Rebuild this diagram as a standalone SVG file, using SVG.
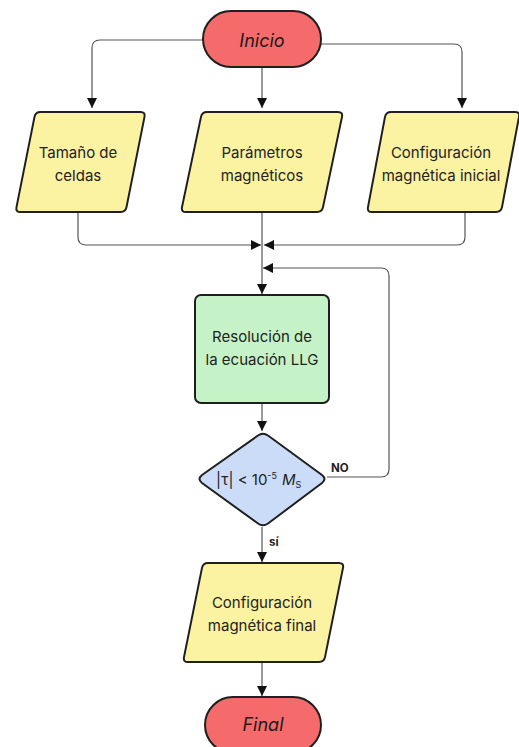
<svg xmlns="http://www.w3.org/2000/svg" width="519" height="747" viewBox="0 0 519 747">
<style>
.term{fill:#f56b6b;stroke:#1f1f1f;stroke-width:2}
.io{fill:#fbf2a2;stroke:#1f1f1f;stroke-width:2;stroke-linejoin:round}
.proc{fill:#c6f2c8;stroke:#1f1f1f;stroke-width:2}
.dec{fill:#cadcf8;stroke:#1f1f1f;stroke-width:2;stroke-linejoin:round}
.t{font-family:Inter,"Liberation Sans",sans-serif;font-size:15px;fill:#222;text-anchor:middle}
.ti{font-family:Inter,"Liberation Sans",sans-serif;font-size:18px;font-style:italic;fill:#1a1a1a;text-anchor:middle}
.lbl{font-family:Inter,"Liberation Sans",sans-serif;font-size:11.5px;font-weight:bold;fill:#222}
.c{fill:none;stroke:#555;stroke-width:1.2}
</style>
<defs>
<marker id="ah" viewBox="0 0 10 10" refX="10" refY="5" markerWidth="10" markerHeight="10" markerUnits="userSpaceOnUse" orient="auto">
<path d="M0,0 L10,5 L0,10 z" fill="#111"/>
</marker>
</defs>
<g id="connectors">
<path class="c" d="M203 40 H100 Q92 40 92 48 V108" marker-end="url(#ah)"/>
<path class="c" d="M262 67 V108" marker-end="url(#ah)"/>
<path class="c" d="M321 44 H454 Q462 44 462 52 V108" marker-end="url(#ah)"/>
<path class="c" d="M78 212 V237 Q78 245 86 245 H261" marker-end="url(#ah)"/>
<path class="c" d="M465 212 V237 Q465 245 457 245 H264" marker-end="url(#ah)"/>
<path class="c" d="M262 212 V294" marker-end="url(#ah)"/>
<path class="c" d="M327 477 H381 Q389 477 389 469 V276 Q389 268 381 268 H263" marker-end="url(#ah)"/>
<path class="c" d="M262 403 V431" marker-end="url(#ah)"/>
<path class="c" d="M262 527 V562" marker-end="url(#ah)"/>
<path class="c" d="M262 662 V696" marker-end="url(#ah)"/>
<text class="lbl" x="331" y="472">NO</text>
<text class="lbl" x="269" y="546" font-size="13">sí</text>
</g>
<g id="inicio">
<rect class="term" x="203" y="11" width="118" height="56" rx="28"/>
<text class="ti" x="262" y="47">Inicio</text>
</g>
<g id="tamano">
<path class="io" d="M40.5 112 L140.5 112 Q145.5 112 144.5 116.9 L126.5 207.1 Q125.5 212 120.5 212 L20.5 212 Q15.5 212 16.5 207.1 L34.5 116.9 Q35.5 112 40.5 112 Z"/>
<text class="t" x="78" y="158">Tamaño de</text>
<text class="t" x="78" y="181">celdas</text>
</g>
<g id="parametros">
<path class="io" d="M207 112 L338 112 Q343 112 342 116.9 L323 207.1 Q322 212 317 212 L186 212 Q181 212 182 207.1 L201 116.9 Q202 112 207 112 Z"/>
<text class="t" x="262" y="158">Parámetros</text>
<text class="t" x="262" y="181">magnéticos</text>
</g>
<g id="config-inicial">
<path class="io" d="M391 112 L515 112 Q520 112 519 116.9 L502 207.1 Q501 212 496 212 L372 212 Q367 212 368 207.1 L385 116.9 Q386 112 391 112 Z"/>
<text class="t" x="441" y="158">Configuración</text>
<text class="t" x="441" y="181">magnética inicial</text>
</g>
<g id="resolucion">
<rect class="proc" x="195" y="295" width="134" height="108" rx="6"/>
<text class="t" x="262" y="342">Resolución de</text>
<text class="t" x="262" y="365">la ecuación LLG</text>
</g>
<g id="decision">
<path class="dec" d="M258 435.5 Q263 432 268 435.5 L322 475 Q327 479 322 483 L268 523.5 Q263 527 258 523.5 L202 483 Q197 479 202 475 Z"/>
<text x="216" y="485" font-family="Inter,'Liberation Sans',sans-serif" font-size="15" fill="#222">|τ| &lt; 10<tspan font-size="9" dy="-6">-5</tspan><tspan dx="5" dy="6" font-style="italic">M</tspan><tspan font-size="9" dy="3">S</tspan></text>
</g>
<g id="config-final">
<path class="io" d="M208 563 L339 563 Q344 563 343 567.9 L325 657.1 Q324 662 319 662 L188 662 Q183 662 184 657.1 L202 567.9 Q203 563 208 563 Z"/>
<text class="t" x="262" y="608">Configuración</text>
<text class="t" x="262" y="631">magnética final</text>
</g>
<g id="final">
<rect class="term" x="205" y="697" width="116" height="56" rx="28"/>
<text class="ti" x="263" y="731">Final</text>
</g>
</svg>
